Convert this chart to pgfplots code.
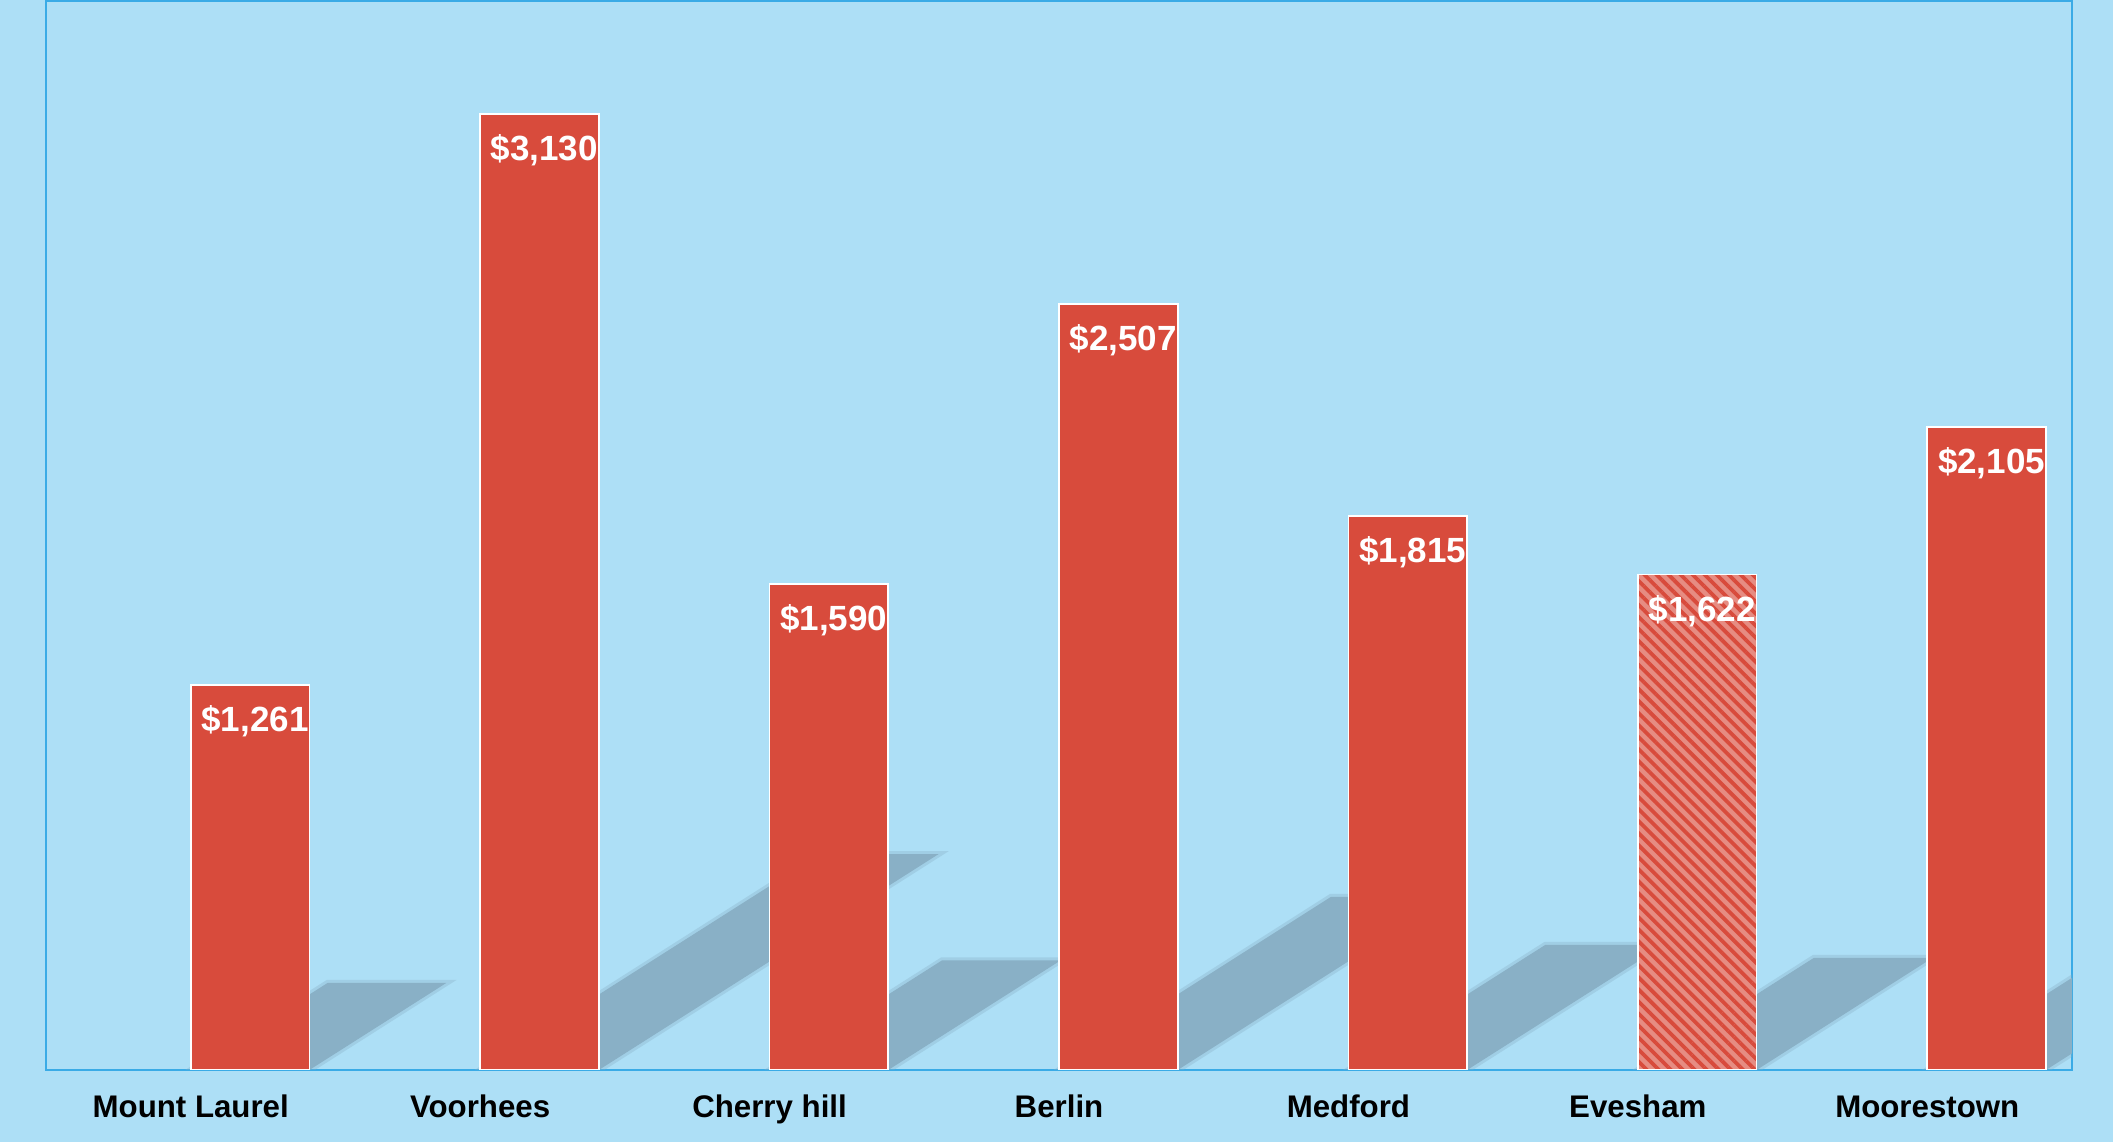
\documentclass[border=0pt]{standalone}
\usepackage{pgfplots}
\pgfplotsset{compat=1.18}
\usepackage{fontspec}
\setmainfont{Liberation Sans}
\usetikzlibrary{patterns.meta}

\definecolor{bgc}{HTML}{ADDFF6}
\definecolor{barred}{HTML}{D84B3C}
\definecolor{lightred}{HTML}{E68C82}
\definecolor{shadowc}{HTML}{89B0C6}
\definecolor{framec}{HTML}{3AABE6}

\begin{document}
\begin{tikzpicture}
  % page background, 2113 x 1142 px at 0.4pt per px
  \fill[bgc] (-18.4pt,-28.8pt) rectangle (826.8pt,428pt);
  \begin{axis}[
      at={(0,0)}, anchor=south west,
      scale only axis, width=810.4pt, height=427.6pt,
      xmin=-0.5, xmax=6.5, ymin=0, ymax=3500,
      axis line style={framec, line width=0.8pt},
      xtick={0,...,6},
      xticklabels={Mount Laurel,Voorhees,Cherry hill,Berlin,Medford,Evesham,Moorestown},
      xticklabel style={anchor=base, yshift=-19.2pt, font=\fontsize{12.5}{14}\selectfont\bfseries},
      major tick length=0pt,
      ytick=\empty,
      every node near coord/.style={anchor=base, yshift=-18.6pt, xshift=25.7pt,
        text=white, font=\fontsize{14}{16}\selectfont\bfseries},
      /pgf/number format/1000 sep={,},
    ]
    % shadows behind the bars
    \pgfplotsset{shadow/.style={fill=shadowc, draw=shadowc, line width=2.4pt, draw opacity=0.35}}
    \addplot[shadow] coordinates {(0,0) (0.41,0) (0.883,285) (0.473,285)} --cycle;
    \addplot[shadow] coordinates {(1,0) (1.41,0) (2.584,707) (2.174,707)} --cycle;
    \addplot[shadow] coordinates {(2,0) (2.41,0) (3.006,359) (2.596,359)} --cycle;
    \addplot[shadow] coordinates {(3,0) (3.41,0) (4.350,567) (3.940,567)} --cycle;
    \addplot[shadow] coordinates {(4,0) (4.41,0) (5.091,410) (4.681,410)} --cycle;
    \addplot[shadow] coordinates {(5,0) (5.41,0) (6.018,367) (5.608,367)} --cycle;
    \addplot[shadow] coordinates {(6,0) (6.41,0) (7.199,476) (6.789,476)} --cycle;

    % bars
    \addplot[ybar, bar width=0.41, bar shift=0.205, fill=barred, draw=white, line width=0.7pt,
      nodes near coords={\$\pgfmathprintnumber[assume math mode=true]{\pgfplotspointmeta}}]
      coordinates {(0,1261) (1,3130) (2,1590) (3,2507) (4,1815) (6,2105)};
    \addplot[ybar, bar width=0.41, bar shift=0.205, fill=lightred, draw=white, line width=0.7pt,
      postaction={pattern={Lines[angle=-45,distance=3.4pt,line width=1.5pt]}, pattern color=barred},
      nodes near coords={\$\pgfmathprintnumber[assume math mode=true]{\pgfplotspointmeta}}]
      coordinates {(5,1622)};
  \end{axis}
\end{tikzpicture}
\end{document}
